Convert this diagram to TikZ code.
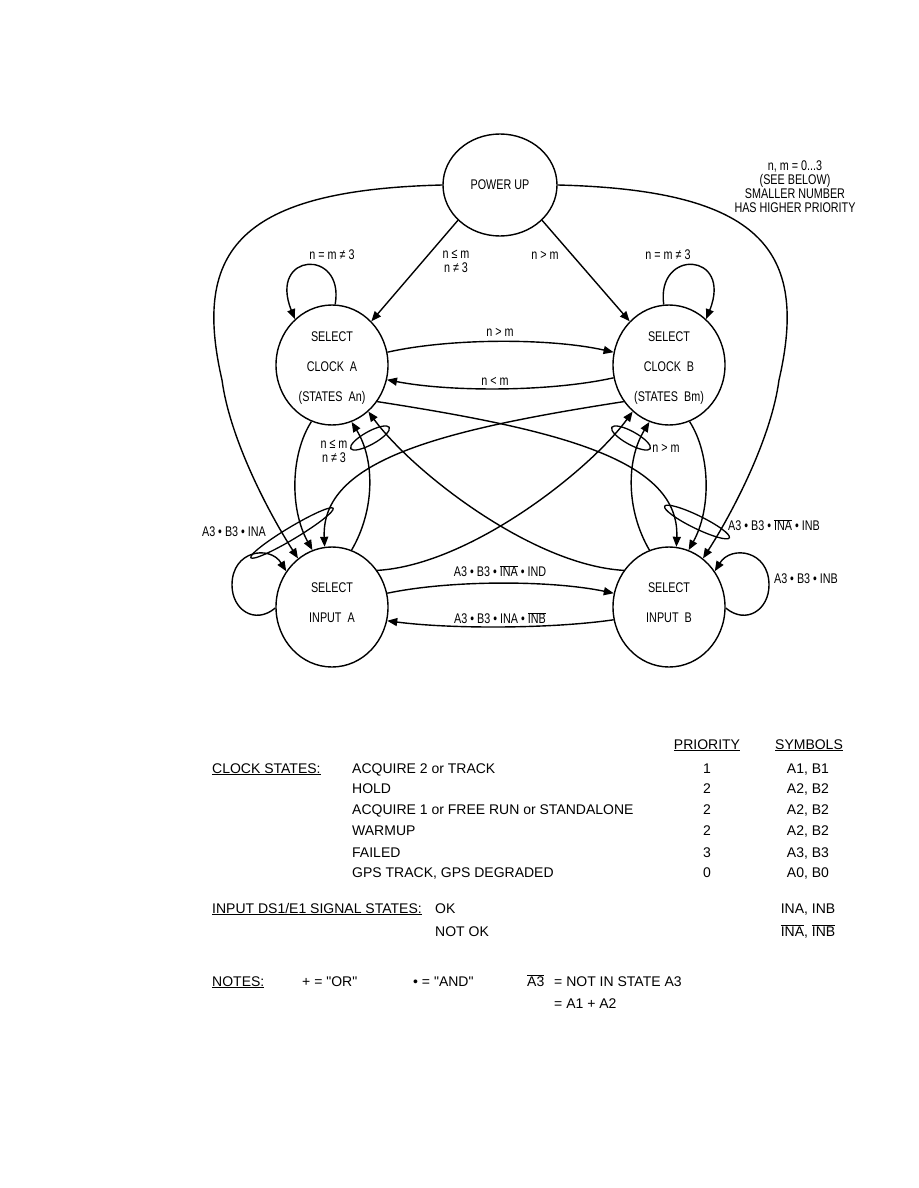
\documentclass[tikz,border=0pt]{standalone}
\usepackage{fontspec}
\setmainfont{Liberation Sans}
\newfontfamily\nfont[FakeStretch=0.77]{Liberation Sans}
\newfontfamily\qfont[Ligatures=TeXOff]{Liberation Sans}
\usetikzlibrary{arrows.meta,shapes.geometric}
\newcommand{\dsz}{\nfont\fontsize{14}{14}\selectfont}
\newcommand{\tsz}{\fontsize{14}{16}\selectfont}
\newcommand{\ovl}[1]{$\overline{\hbox{#1}}$}
\newcommand{\dq}{{\qfont"}}
\tikzset{
  st/.style={draw, ellipse, line width=1.4pt, minimum width=112pt, minimum height=120pt, inner sep=0pt, align=center, font=\dsz},
  arr/.style={line width=1.4pt, -{Triangle[length=10pt,width=8pt]}},
  grp/.style={draw, ellipse, line width=1.3pt, inner sep=0pt},
  lbl/.style={font=\dsz, inner sep=0pt, align=center},
  tbl/.style={font=\tsz, inner sep=0pt, anchor=base west},
  tblc/.style={font=\tsz, inner sep=0pt, anchor=base},
}
\begin{document}
\begin{tikzpicture}[x=1pt,y=-1pt]
\useasboundingbox (0,0) rectangle (918,1188);
% states
\node[draw, ellipse, line width=1.4pt, minimum width=114pt, minimum height=102pt, inner sep=0pt, font=\dsz] (pu) at (500,185) {POWER UP};
\node[st] (ca) at (332,365) {\rule{0pt}{4pt}\\[-2pt]SELECT\\[16pt]CLOCK\ \ A\\[16pt](STATES\ \ An)};
\node[st] (cb) at (669,365) {\rule{0pt}{4pt}\\[-2pt]SELECT\\[16pt]CLOCK\ \ B\\[16pt](STATES\ \ Bm)};
\node[st] (ia) at (332,607) {SELECT\\[16pt]INPUT\ \ A\\[-6pt]\rule{0pt}{4pt}};
\node[st] (ib) at (669,607) {SELECT\\[16pt]INPUT\ \ B\\[-6pt]\rule{0pt}{4pt}};
% note
\node[lbl] (note) at (795,187) {n, m = 0...3\\(SEE BELOW)\\SMALLER NUMBER\\HAS HIGHER PRIORITY};
% power up transitions
\draw[arr] (pu.-140) -- (ca.48);
\draw[arr] (pu.-40) -- (cb.132);
\draw[arr] (pu.180) .. controls (240,190) and (192,250) .. (222,380) .. controls (230,440) and (270,515) .. (ia.125);
\draw[arr] (pu.0) .. controls (761,190) and (809,250) .. (779,380) .. controls (771,440) and (731,515) .. (ib.55);
% clock self loops
\draw[arr] (ca.87) .. controls (345,248) and (268,252) .. (ca.129);
\draw[arr] (cb.95) .. controls (656,248) and (733,252) .. (cb.51);
% clock A <-> clock B
\draw[arr] (ca.13) .. controls (450,338) and (550,338) .. (cb.167);
\draw[arr] (cb.-167) .. controls (550,392) and (450,392) .. (ca.-15);
% outer arcs clock -> input
\draw[arr] (ca.-110) .. controls (290,455) and (290,510) .. (ia.109);
\draw[arr] (cb.-70) .. controls (711,455) and (711,510) .. (ib.71);
% inner arcs input -> clock
\draw[arr] (ia.71) .. controls (375,510) and (375,460) .. (ca.-71);
\draw[arr] (ib.109) .. controls (626,510) and (626,460) .. (cb.-109);
% crossing curves
\draw[arr] (ca.-39) .. controls (560,430) and (680,460) .. (ib.83);
\draw[arr] (cb.-141) .. controls (441,430) and (321,460) .. (ia.97);
\draw[arr] (ia.39) .. controls (470,565) and (590,470) .. (cb.-128);
\draw[arr] (ib.141) .. controls (531,565) and (411,470) .. (ca.-52);
% input A <-> input B
\draw[arr] (ia.14) .. controls (450,580) and (550,580) .. (ib.166);
\draw[arr] (ib.-167) .. controls (550,629) and (450,629) .. (ia.-14);
% input self loops
\draw[arr] (ia.181) .. controls (255,625) and (232,610) .. (232,585) .. controls (232,550) and (270,545) .. (ia.142);
\draw[arr] (ib.-1) .. controls (746,625) and (769,610) .. (769,585) .. controls (769,550) and (731,545) .. (ib.38);
% grouping ellipses
\node[grp, minimum width=44pt, minimum height=13pt, rotate=29] (gA) at (370,438) {};
\node[grp, minimum width=44pt, minimum height=13pt, rotate=-29] (gB) at (631,438) {};
\node[grp, minimum width=96pt, minimum height=12pt, rotate=31] (gIA) at (292,533) {};
\node[grp, minimum width=72pt, minimum height=13pt, rotate=-26] (gIB) at (697,522) {};
% labels
\node[lbl] at (332,255) {n = m ≠ 3};
\node[lbl] at (668,255) {n = m ≠ 3};
\node[lbl] at (456,261) {n ≤ m\\n ≠ 3};
\node[lbl] at (545,255) {n > m};
\node[lbl] at (500,332) {n > m};
\node[lbl] at (495,381) {n < m};
\node[lbl] at (334,451) {n ≤ m\\n ≠ 3};
\node[lbl] at (666,448) {n > m};
\node[lbl] at (234,532) {A3 • B3 • INA};
\node[lbl] at (774,525) {A3 • B3 • \ovl{INA} • INB};
\node[lbl] at (806,579) {A3 • B3 • INB};
\node[lbl] at (500,571) {A3 • B3 • \ovl{INA} • IND};
\node[lbl] at (500,618) {A3 • B3 • INA • \ovl{INB}};
% table
\node[tblc] at (707,749) {\underline{PRIORITY}};
\node[tblc] at (809,749) {\underline{SYMBOLS}};
\node[tbl] at (212,773) {\underline{CLOCK STATES:}};
\node[tbl] at (352,773) {ACQUIRE 2 or TRACK};
\node[tbl] at (352,793) {HOLD};
\node[tbl] at (352,814) {ACQUIRE 1 or FREE RUN or STANDALONE};
\node[tbl] at (352,835) {WARMUP};
\node[tbl] at (352,857) {FAILED};
\node[tbl] at (352,877) {GPS TRACK, GPS DEGRADED};
\node[tblc] at (707,773) {1};
\node[tblc] at (707,793) {2};
\node[tblc] at (707,814) {2};
\node[tblc] at (707,835) {2};
\node[tblc] at (707,857) {3};
\node[tblc] at (707,877) {0};
\node[tblc] at (808,773) {A1, B1};
\node[tblc] at (808,793) {A2, B2};
\node[tblc] at (808,814) {A2, B2};
\node[tblc] at (808,835) {A2, B2};
\node[tblc] at (808,857) {A3, B3};
\node[tblc] at (808,877) {A0, B0};
\node[tbl] at (212,913) {\underline{INPUT DS1/E1 SIGNAL STATES:}};
\node[tbl] at (435,913) {OK};
\node[tbl] at (435,936) {NOT OK};
\node[tblc] at (808,913) {INA, INB};
\node[tblc] at (808,936) {\ovl{INA}, \ovl{INB}};
\node[tbl] at (212,986) {\underline{NOTES:}};
\node[tbl] at (302,986) {+ = \dq OR\dq};
\node[tbl] at (413,986) {• = \dq AND\dq};
\node[tbl] at (527,986) {\ovl{A3}};
\node[tbl] at (554,986) {= NOT IN STATE A3};
\node[tbl] at (554,1008) {= A1 + A2};
\end{tikzpicture}
\end{document}
